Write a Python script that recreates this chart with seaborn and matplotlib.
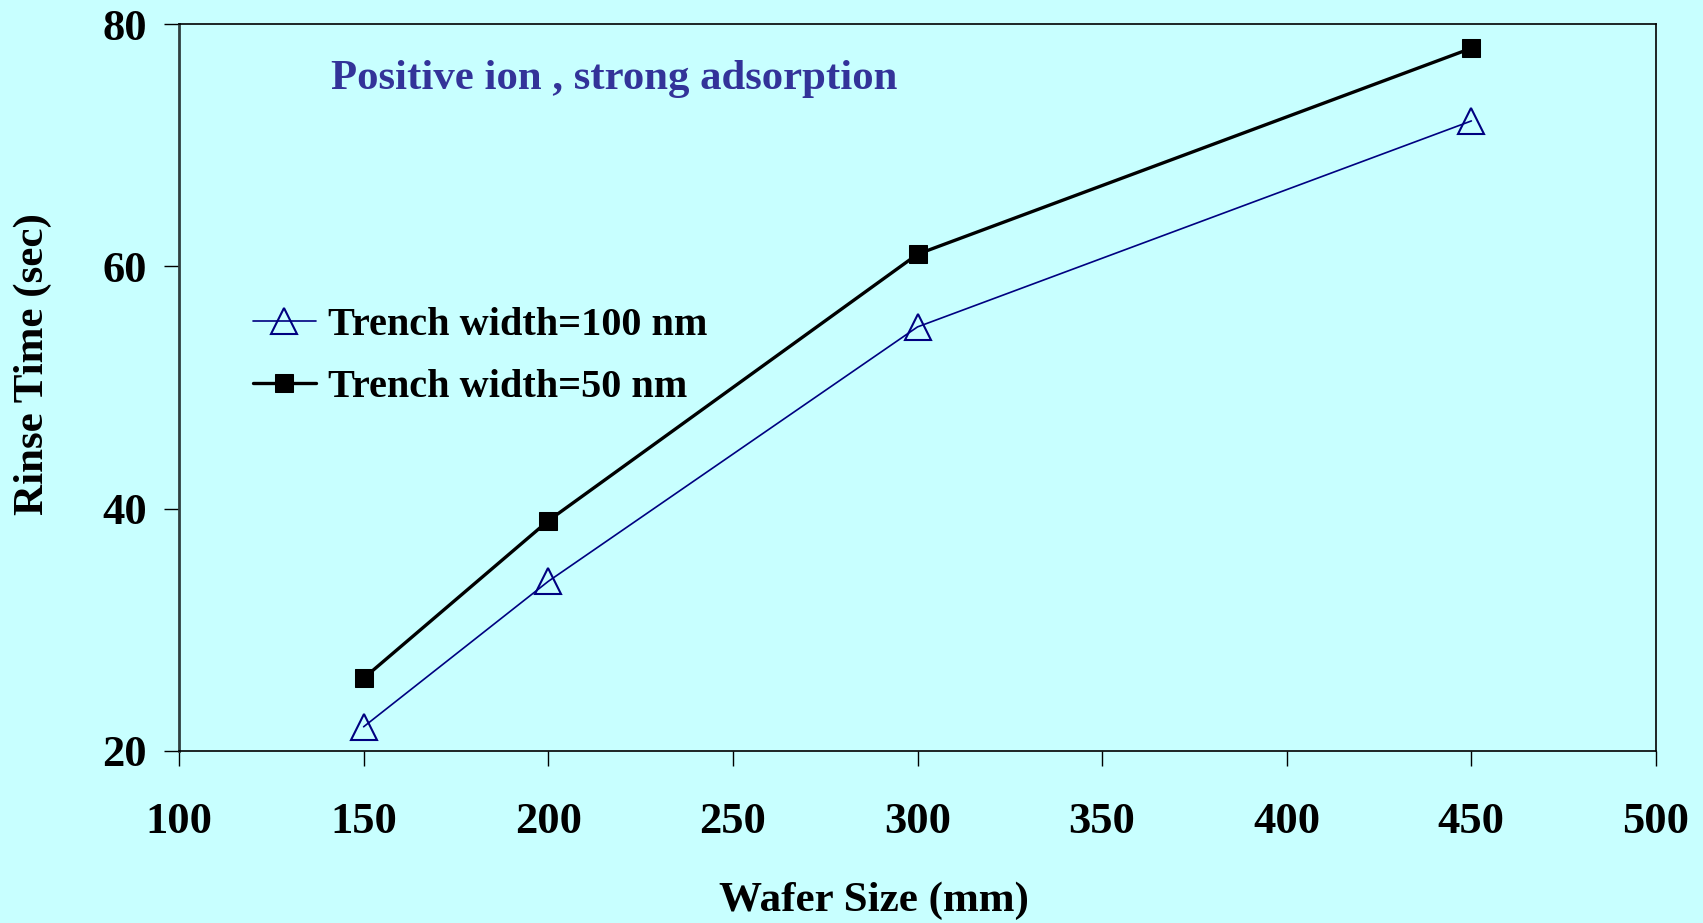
import matplotlib
matplotlib.use("Agg")
import matplotlib.pyplot as plt
import seaborn as sns
import pandas as pd

# Rinse time versus wafer size for two trench widths
wafer_size = [150, 200, 300, 450]
rinse_100nm = [22, 34, 55, 72]
rinse_50nm = [26, 39, 61, 78]
series_labels = ["Trench width=100 nm", "Trench width=50 nm"]
x_ticks = [100, 150, 200, 250, 300, 350, 400, 450, 500]
y_ticks = [20, 40, 60, 80]

bg = "#C8FFFF"
sns.set_style("white")
plt.rcParams["font.family"] = ["Liberation Serif", "DejaVu Serif"]
plt.rcParams["font.weight"] = "bold"
plt.rcParams["text.color"] = "black"
plt.rcParams["axes.labelcolor"] = "black"

fig = plt.figure(figsize=(17.03, 9.23), dpi=100, facecolor=bg)
ax = fig.add_axes([179 / 1703, 1 - 751 / 923, (1656 - 179) / 1703, (751 - 24) / 923])
ax.set_facecolor(bg)

df100 = pd.DataFrame({"x": wafer_size, "y": rinse_100nm})
df50 = pd.DataFrame({"x": wafer_size, "y": rinse_50nm})

sns.lineplot(data=df100, x="x", y="y", ax=ax, color="#000080", linewidth=1.2,
             marker="^", markersize=19, markerfacecolor="none",
             markeredgecolor="#000080", markeredgewidth=1.5,
             label=series_labels[0])
sns.lineplot(data=df50, x="x", y="y", ax=ax, color="black", linewidth=2.4,
             marker="s", markersize=12.5, markerfacecolor="black",
             markeredgecolor="black", label=series_labels[1])

ax.set_xlim(100, 500)
ax.set_ylim(20, 80)
ax.set_xticks(x_ticks)
ax.set_yticks(y_ticks)
ax.tick_params(axis="both", which="major", direction="out", length=11,
               width=1, colors="black", labelsize=32, bottom=True, left=True)
ax.tick_params(axis="x", pad=26)
ax.tick_params(axis="y", pad=12)
for lab in ax.get_xticklabels() + ax.get_yticklabels():
    lab.set_fontweight("bold")

for side in ["top", "right", "bottom"]:
    ax.spines[side].set_color("black")
    ax.spines[side].set_linewidth(1.2)
ax.spines["left"].set_color("#2F3F3F")
ax.spines["left"].set_linewidth(2)

ax.set_xlabel("")
ax.set_ylabel("")
fig.text(874 / 1703, 1 - 901 / 923, "Wafer Size (mm)", ha="center", va="center",
         fontsize=31, fontweight="bold", color="black")
fig.text(33 / 1703, 1 - 364 / 923, "Rinse Time (sec)", ha="center", va="center",
         rotation=90, fontsize=31, fontweight="bold", color="black")

ax.text(331 / 1703, 1 - 79 / 923, "Positive ion , strong adsorption",
        transform=fig.transFigure, ha="left", va="center",
        fontsize=30.8, fontweight="bold", color="#333399")

leg = ax.legend(loc="upper left", bbox_to_anchor=(233 / 1703, 1 - 287 / 923),
                bbox_transform=fig.transFigure, frameon=False,
                prop={"size": 29, "weight": "bold"}, handlelength=1.55,
                handletextpad=0.3, labelspacing=0.6, borderpad=0)
for t in leg.get_texts():
    t.set_color("black")

fig.savefig("out.png", dpi=100, facecolor=bg)
